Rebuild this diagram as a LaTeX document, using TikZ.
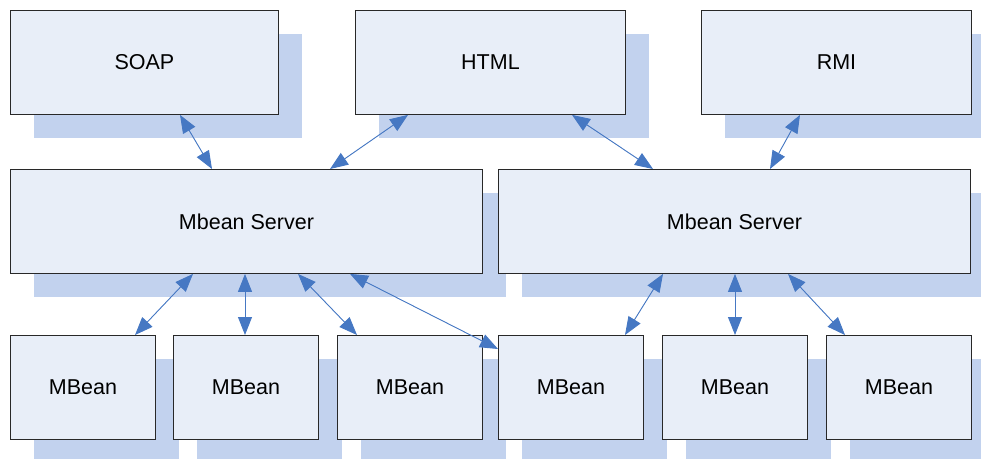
\documentclass[tikz,border=0pt]{standalone}
\usepackage{fontspec}
\setmainfont{Liberation Sans}
\usetikzlibrary{arrows.meta,shadows,calc}
\definecolor{boxfill}{RGB}{232,238,248}
\definecolor{boxdraw}{RGB}{40,40,40}
\definecolor{shadowfill}{RGB}{194,210,238}
\definecolor{arrowcol}{RGB}{70,120,195}
\tikzset{
  box/.style={draw=boxdraw, line width=0.9pt, fill=boxfill, anchor=north west,
    inner sep=0pt, minimum height=104pt, font=\fontsize{21.5}{24}\selectfont,
    general shadow={fill=shadowfill, shadow xshift=24pt, shadow yshift=-24pt}},
  link/.style={draw=arrowcol, line width=0.9pt, {Triangle[length=18pt,width=14pt]}-{Triangle[length=18pt,width=14pt]}, fill=arrowcol}
}
\begin{document}
\begin{tikzpicture}[x=1pt,y=-1pt]
\useasboundingbox (0,0) rectangle (981,458);
\node[box, minimum width=268pt] (soap) at (10,10) {SOAP};
\node[box, minimum width=270pt] (html) at (355,10) {HTML};
\node[box, minimum width=270pt] (rmi) at (701,10) {RMI};
\node[box, minimum width=472pt] (msl) at (10,169) {Mbean Server};
\node[box, minimum width=472pt] (msr) at (498,169) {Mbean Server};
\node[box, minimum width=145pt] (mb1) at (10,335) {MBean};
\node[box, minimum width=145pt] (mb2) at (173,335) {MBean};
\node[box, minimum width=145pt] (mb3) at (337,335) {MBean};
\node[box, minimum width=145pt] (mb4) at (498,335) {MBean};
\node[box, minimum width=145pt] (mb5) at (662,335) {MBean};
\node[box, minimum width=145pt] (mb6) at (826,335) {MBean};
\draw[link] ($(soap.south west)+(170,0)$) -- ($(msl.north west)+(202,0)$);
\draw[link] ($(html.south west)+(53,0)$) -- ($(msl.north west)+(320,0)$);
\draw[link] ($(html.south west)+(217,0)$) -- ($(msr.north west)+(155,0)$);
\draw[link] ($(rmi.south west)+(99,0)$) -- ($(msr.north west)+(272,0)$);
\draw[link] ($(msl.south west)+(183,0)$) -- ($(mb1.north west)+(125,0)$);
\draw[link] ($(msl.south west)+(235,0)$) -- ($(mb2.north west)+(72,0)$);
\draw[link] ($(msl.south west)+(288,0)$) -- ($(mb3.north west)+(20,0)$);
\draw[link] ($(msl.south west)+(340,0)$) -- ($(mb4.north west)+(0,14)$);
\draw[link] ($(msr.south west)+(165,0)$) -- ($(mb4.north west)+(127,0)$);
\draw[link] ($(msr.south west)+(237,0)$) -- ($(mb5.north west)+(73,0)$);
\draw[link] ($(msr.south west)+(290,0)$) -- ($(mb6.north west)+(19,0)$);
\end{tikzpicture}
\end{document}
